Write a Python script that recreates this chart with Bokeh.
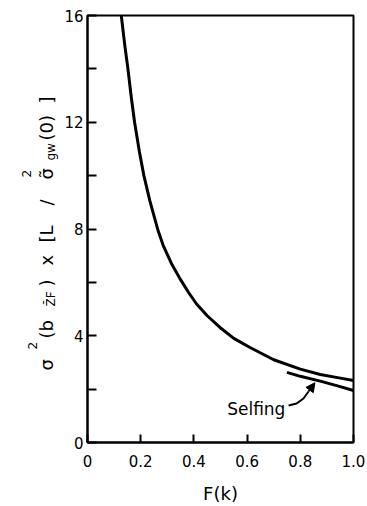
from bokeh.plotting import figure
from bokeh.layouts import row
from bokeh.models import Range1d, FixedTicker, Label, Arrow, NormalHead
from bokeh.embed import file_html
from bokeh.resources import INLINE
from bokeh.core.properties import value

# ---- data ----
F_main = [0.127, 0.14, 0.152, 0.165, 0.177, 0.195, 0.212, 0.234, 0.265, 0.284,
          0.315, 0.347, 0.38, 0.41, 0.45, 0.498, 0.55, 0.611, 0.70, 0.80,
          0.875, 0.94, 1.0]
V_main = [16.0, 14.9, 14.0, 12.9, 12.0, 10.9, 10.0, 9.07, 7.95, 7.40,
          6.72, 6.15, 5.62, 5.19, 4.75, 4.31, 3.9, 3.56, 3.10, 2.75,
          2.55, 2.43, 2.32]

F_self = [0.75, 0.80, 0.875, 0.94, 1.0]
V_self = [2.63, 2.48, 2.30, 2.12, 1.95]

x_ticks = [0, 0.2, 0.4, 0.6, 0.8, 1.0]
x_tick_labels = ["0", "0.2", "0.4", "0.6", "0.8", "1.0"]
y_ticks = [0, 2, 4, 6, 8, 10, 12, 14, 16]
y_tick_labels = ["0", "", "4", "", "8", "", "12", "", "16"]

selfing_label = "Selfing"
arrow_F = [0.756, 0.786, 0.812, 0.831]
arrow_V = [1.386, 1.461, 1.649, 1.911]
arrow_tip = (0.855, 2.24)

FONT = "DejaVu Sans"
W, H = 367, 506
LW = 60            # width of the strip holding the rotated y-axis title
TOP, BOTTOM = 15, 442   # page y of the plot frame's top and bottom

p = figure(width=W - LW, height=H, output_backend="svg", toolbar_location=None,
           x_range=Range1d(0, 1.0), y_range=Range1d(0, 16),
           min_border_left=87 - LW, min_border_right=14, min_border_top=TOP,
           min_border_bottom=H - BOTTOM)
p.background_fill_color = "white"
p.border_fill_color = "white"
p.grid.visible = False
p.outline_line_color = "black"
p.outline_line_width = 2

for ax in (p.xaxis[0], p.yaxis[0]):
    ax.axis_line_width = 2
    ax.axis_line_color = "black"
    ax.major_tick_line_width = 2
    ax.major_tick_line_color = "black"
    ax.major_tick_out = 0
    ax.minor_tick_line_color = None
    ax.major_label_text_font = FONT
    ax.major_label_text_font_size = "15px"
    ax.major_label_text_color = "black"

p.xaxis.ticker = FixedTicker(ticks=x_ticks)
p.xaxis.major_label_overrides = {t: l for t, l in zip(x_ticks, x_tick_labels)}
p.xaxis.major_tick_in = 8
p.xaxis.major_label_standoff = 12
p.xaxis.axis_label = "F(k)"
p.xaxis.axis_label_text_font = FONT
p.xaxis.axis_label_text_font_size = "18px"
p.xaxis.axis_label_text_font_style = "normal"
p.xaxis.axis_label_text_color = "black"
p.xaxis.axis_label_standoff = 13

p.yaxis.ticker = FixedTicker(ticks=y_ticks)
p.yaxis.major_label_overrides = {t: l for t, l in zip(y_ticks, y_tick_labels)}
p.yaxis.major_tick_in = 9
p.yaxis.major_label_standoff = 4

p.line(F_main, V_main, line_color="black", line_width=3, line_join="round")
p.line(F_self, V_self, line_color="black", line_width=3, line_join="round")

# annotation: "Selfing" with curved arrow
p.add_layout(Label(x=arrow_F[0] - 0.012, y=arrow_V[0] - 0.12, text=selfing_label,
                   text_align="right", text_baseline="alphabetic",
                   text_font=FONT, text_font_size="17px", text_color="black"))
p.line(arrow_F, arrow_V, line_color="black", line_width=2)
p.add_layout(Arrow(x_start=arrow_F[-1], y_start=arrow_V[-1],
                   x_end=arrow_tip[0], y_end=arrow_tip[1],
                   line_color="black", line_width=2,
                   end=NormalHead(size=9, fill_color="black", line_color="black")))

# ---- rotated y-axis title, built from pieces in a narrow strip ----
# the strip's frame is aligned with the plot frame, so map page y directly
t = figure(width=LW, height=H, output_backend="svg", toolbar_location=None,
           x_range=Range1d(0, LW), y_range=Range1d(H - BOTTOM, H - TOP),
           x_axis_type=None, y_axis_type=None,
           min_border=0, min_border_left=0, min_border_right=0,
           min_border_top=TOP, min_border_bottom=H - BOTTOM)
t.grid.visible = False
t.outline_line_color = None
t.background_fill_color = "white"
t.border_fill_color = "white"

# (text, page y where the piece starts, page x of its baseline, font px)
pieces = [
    ("σ", 370, 46, 18),
    ("2", 349, 32, 12),
    ("(b", 338, 46, 18),
    ("Z\u0304F", 306, 50, 12),
    (")", 286, 46, 18),
    ("x", 265, 46, 18),
    ("[L", 242, 46, 18),
    ("/", 205, 46, 18),
    ("σ\u0303", 179, 46, 18),
    ("2", 177, 26, 12),
    ("gw", 160, 50, 12),
    ("(0)", 140, 46, 18),
    ("]", 103, 46, 18),
]
for txt, yc, xc, sz in pieces:
    t.text(x=[xc], y=[H - yc], text=[txt], angle=1.5707963,
           text_align="left", text_baseline="alphabetic",
           text_font=value(FONT), text_font_size=value(f"{sz}px"),
           text_color="black")

layout = row(t, p, spacing=0)
open("out.html", "w").write(file_html(layout, INLINE))
